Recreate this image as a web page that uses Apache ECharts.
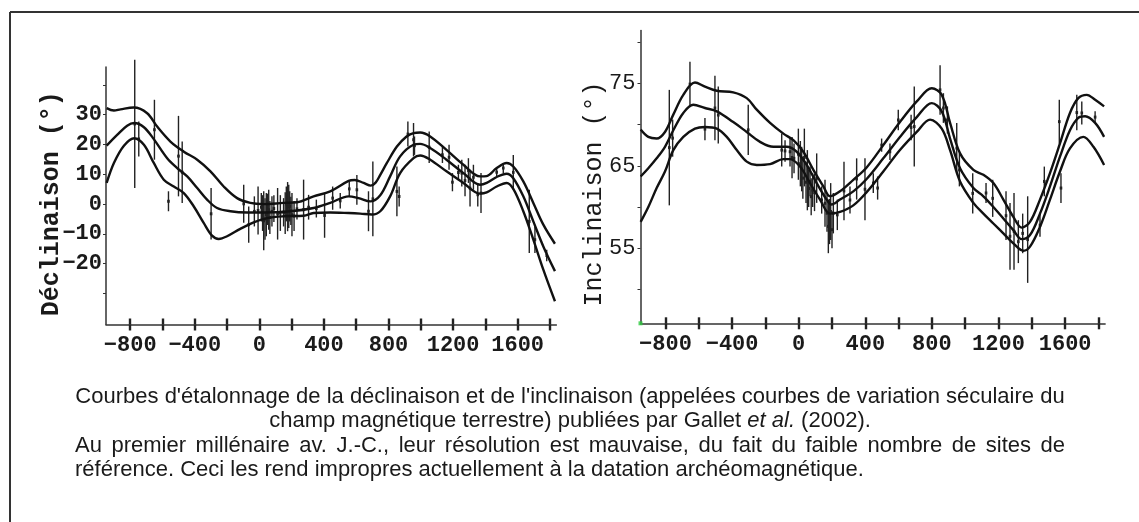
<!DOCTYPE html>
<html><head><meta charset="utf-8">
<script src="https://cdn.jsdelivr.net/npm/echarts@6/dist/echarts.min.js"></script>
<style>html,body{margin:0;padding:0;background:#fff}#c{width:1139px;height:522px}</style>
</head><body><div id="c"></div>
<script>
// ---------- DATA ----------
// Déclinaison (left chart)
const declUpYears = [-946,-901,-860,-778,-695,-633,-551,-468,-385,-303,-221,-138,-56,27,150,233,336,439,553,590,646,690,720,749,790,852,910,955,996,1058,1159,1264,1367,1408,1470,1532,1573,1635,1697,1759,1831];
const declUpVals  = [32.2,31.4,31.8,32.4,30.5,26,21,17.6,14.9,11,5.9,2,0.4,0,0.4,0.6,2.6,4.3,7.8,8.1,7.1,6.2,7.2,9.8,13.8,19.3,22.6,23.8,24,22.7,18.2,13.2,9.3,9.4,12.1,13.8,12.6,7.6,0.4,-6.9,-13.3];
const declMidYears = [-946,-881,-819,-775,-715,-654,-571,-509,-447,-385,-324,-262,-179,-76,27,192,336,439,553,614,687,749,810,872,955,996,1058,1159,1264,1367,1408,1470,1532,1573,1635,1697,1759,1831];
const declMidVals  = [19.6,23.2,26.3,27.2,25.8,21.8,15.4,12.1,9.3,5.4,1.5,-1.3,-2.4,-2.8,-2.8,-2.4,-1.3,0.4,2.6,2,0.9,3,9.3,16,19.9,20.2,18.8,14.9,10.4,6.5,7.1,9.1,10.2,8.7,2.6,-5.8,-14.2,-22.5];
const declLowYears = [-946,-901,-839,-775,-715,-654,-592,-530,-468,-406,-345,-293,-252,-200,-118,-35,48,150,274,336,439,553,625,697,749,810,872,955,996,1058,1159,1264,1367,1408,1470,1532,1573,1635,1697,1759,1831];
const declLowVals  = [7.1,13.8,19.6,22.1,19.9,13.8,8.2,5.9,3.7,-0.8,-6.3,-10.6,-11.7,-10.8,-8.3,-6.1,-4.7,-4.1,-3.9,-3,-2.8,-3,-3.2,-3.5,-2.4,2.6,10.4,15.4,16.3,14.9,11,7.1,3.5,3.9,5.9,7.1,5.1,-2.4,-11.9,-22,-32.6];
// error bars: year, low, high
const declErrYears = [-772,-747,-650,-563,-501,-478,-299,-97,-66,-31,-8,12,20,27,35,43,50,58,65,78,90,113,130,150,160,167,175,182,188,195,202,215,233,274,305,353,404,454,501,557,604,676,703,852,866,920,955,961,1052,1134,1175,1196,1233,1254,1274,1295,1305,1326,1353,1373,1470,1511,1573,1672,1707,1780];
const declErrLow   = [5.4,16,14.9,-2.4,2.6,0.4,-11.9,-6.3,-13,-7.5,-10.2,-5.8,-9,-15.5,-12,-10.8,-7,-8.6,-10,-7.5,-6,-11.9,-9,-7.5,-10,-5.8,-9.1,-8,-5.8,-7,-10.8,-9,-5.2,-11.9,-5.2,-4.5,-11.3,-1.9,-1.5,2.6,-0.2,-9.1,-10.8,-4.1,-0.8,19.3,16,16.5,13.8,13.8,11.5,4.3,8,5.9,2.6,7.1,-0.8,4.8,-0.8,-3,9.3,10.4,4.8,-16.4,-16.4,-19.2];
const declErrHigh  = [48.4,27.7,35,4.3,29.6,21,5.4,6.5,-0.8,2.6,5.9,3.7,3,4.3,2,3.7,3.5,4.8,1,2.6,3,5.4,3,2,4,5.9,7.4,6.5,4.3,2.5,3.7,1,2,8.2,3.1,1.5,3.7,5.9,3.7,7.6,9.8,4.3,14.3,12.6,5.9,27.7,27.2,22.7,24.4,19.3,19.9,10.4,13.2,14.9,13.2,15.4,11.5,13.2,7.1,10.4,12.1,13.8,16.5,4.8,-7.5,-15.3];

// Inclinaison (right chart)
const inclUpYears = [-949,-903,-853,-803,-753,-693,-623,-563,-492,-393,-312,-252,-172,-92,-32,28,88,148,188,248,328,408,508,608,709,799,859,909,969,1049,1109,1169,1229,1289,1339,1389,1449,1509,1569,1629,1679,1730,1780,1834];
const inclUpVals  = [69.4,68.5,68.3,69.1,71.2,73.6,75.1,74.6,74.1,73.9,73.2,71.8,70.2,68.9,68.1,66.7,64.5,62.5,61.3,61.9,63.3,64.8,67.5,70.3,72.8,74.4,73.6,70.2,66.5,64.5,63.9,62.9,60.9,58.8,57.5,58.2,60.9,64.1,67.7,71.4,73.2,73.6,73,72.2];
const inclMidYears = [-949,-903,-853,-803,-753,-693,-633,-563,-492,-393,-312,-232,-152,-72,-12,48,108,168,198,248,328,408,508,608,709,799,859,909,969,1049,1109,1169,1229,1289,1339,1389,1449,1509,1569,1629,1679,1720,1780,1834];
const inclMidVals  = [63.7,64.7,65.9,67.3,69.3,71.4,72.4,72,71.6,70.3,69.1,67.9,67.3,67.3,66.7,65.1,62.9,60.9,60.3,60.9,61.9,63.4,65.9,68.5,70.9,72.6,71.6,68.3,64.7,62.3,61.3,60,58.6,57.2,56.1,56.6,59.2,62.5,66.1,69.3,70.8,71,70.2,68.5];
const inclLowYears = [-949,-903,-853,-803,-753,-693,-623,-563,-492,-432,-372,-312,-252,-172,-92,-52,8,68,128,188,248,328,408,508,608,709,789,859,909,969,1049,1109,1169,1229,1289,1349,1389,1449,1509,1569,1629,1709,1770,1834];
const inclLowVals  = [58.2,60,62.3,64.3,66.9,68.5,69.5,69.7,69.5,68.5,66.9,65.5,65.1,65.2,65.8,65.8,64.9,62.9,60.9,59.2,59.4,60.2,61.8,64.3,66.9,69.1,70.6,69.5,66.9,63.1,60.5,59.2,58,56.8,55.6,54.7,55.2,57.6,60.9,64.3,67.1,68.5,67.3,65.1];
const inclErrYears = [-777,-757,-653,-563,-503,-483,-303,-102,-82,-52,-40,-28,-2,10,18,25,34,44,52,60,68,75,84,95,108,138,158,170,178,185,192,200,208,232,272,308,348,398,448,474,498,548,598,675,694,849,869,893,949,965,1045,1125,1165,1245,1269,1293,1319,1345,1375,1449,1475,1565,1575,1670,1700,1780];
const inclErrLow   = [60.2,66.1,72.2,68.1,68.1,67.7,66.3,64.9,65.5,64.9,63.5,64.1,63.3,62.5,61.9,61,62.5,60.5,59.6,60,61.3,59,60,59.5,60.5,59.2,57.6,57,54.4,55.5,56,55,56.8,57.2,58.4,59.2,60.9,58.4,61.7,60.9,66.7,65.7,69.3,68.1,64.9,71.2,70.2,68.9,64.1,62.5,59.2,60.5,58.8,56,52.4,52.4,53.2,54.4,50.8,56.4,61.3,67.7,60.5,69.3,70,70.2];
const inclErrHigh  = [74.2,70.6,77.6,70.8,75.9,74.6,72.4,68.9,68.1,68.5,68.5,67.7,69.5,68,67.3,66,69.5,65.5,66.9,64.5,64.9,63.5,64.1,64,66.5,62.5,63.3,61.5,60.9,61,62.9,59.5,61.7,60.9,65.5,62.5,65.9,65.9,64.1,63.7,68.3,67.7,71.8,71.2,74.6,77.2,73.8,72.2,70.2,66.5,64.1,62.9,63.3,61.9,60.5,61.7,58.4,59.2,61.3,59.2,64.9,73,64.1,73.6,72.8,71.6];
const inclOriginMark = [[-950, 45.9]];

// Axes ticks / labels
const yearTicks  = [-800,-600,-400,-200,0,200,400,600,800,1000,1200,1400,1600,1800];
const yearLabels = [-800,-400,0,400,800,1200,1600];
const declTicks  = [-30,-20,-10,0,10,20,30,40];
const declLabels = [-20,-10,0,10,20,30];
const inclTicks  = [50,55,60,65,70,75,80];
const inclLabels = [55,65,75];

const captionLine1 = "Courbes d'étalonnage de la déclinaison et de l'inclinaison (appelées courbes de variation séculaire du";
const captionLine2a = "champ magnétique terrestre) publiées par Gallet ";
const captionLine2b = "et al.";
const captionLine2c = " (2002).";
const captionLine3 = "Au premier millénaire av. J.-C., leur résolution est mauvaise, du fait du faible nombre de sites de";
const captionLine4 = "référence. Ceci les rend impropres actuellement à la datation archéomagnétique.";

// ---------- CHART ----------
const MONO = '"Liberation Mono", "DejaVu Sans Mono", monospace';
const SANS = '"Liberation Sans", Arial, sans-serif';
const INK = '#1a1a1a';
const zip = (xs, ys) => xs.map((x, i) => [x, ys[i]]);
const zip3 = (xs, a, b) => xs.map((x, i) => [x, a[i], b[i]]);
const fmt = v => (v < 0 ? '\u2212' + Math.abs(v) : String(v));

function xAxes(gridIndex) {
  return [
    { type: 'value', gridIndex, min: -950, max: 1840, position: 'bottom',
      axisLine: { show: true, onZero: false, lineStyle: { color: '#333', width: 1.5 } },
      axisTick: { show: true, inside: false, length: 6, lineStyle: { color: '#222', width: 2.4 }, customValues: yearTicks },
      axisLabel: { show: true, margin: 10, fontFamily: MONO, fontWeight: 'bold', fontSize: 22, color: INK,
                   customValues: yearLabels, formatter: fmt },
      splitLine: { show: false } },
    { type: 'value', gridIndex, min: -950, max: 1840, position: 'bottom',
      axisLine: { show: false, onZero: false },
      axisTick: { show: true, inside: true, length: 6, lineStyle: { color: '#222', width: 2.4 }, customValues: yearTicks },
      axisLabel: { show: false }, splitLine: { show: false } }
  ];
}

function line(data, xi, yi) {
  return { type: 'line', xAxisIndex: xi, yAxisIndex: yi, data, smooth: 0.35, symbol: 'none',
           lineStyle: { color: '#111', width: 2.4 }, z: 3, silent: true };
}
function errBars(data, xi, yi) {
  return { type: 'custom', xAxisIndex: xi, yAxisIndex: yi, data, z: 2, silent: true, clip: false,
    renderItem(params, api) {
      const x = api.value(0), lo = api.value(1), hi = api.value(2);
      const p1 = api.coord([x, lo]), p2 = api.coord([x, hi]);
      const pm = api.coord([x, (lo + hi) / 2]);
      return { type: 'group', children: [
        { type: 'line', shape: { x1: p1[0], y1: p1[1], x2: p2[0], y2: p2[1] },
          style: { stroke: '#222', lineWidth: 1.4 } },
        { type: 'rect', shape: { x: pm[0] - 1.3, y: pm[1] - 1.5, width: 2.6, height: 3 },
          style: { fill: '#222' } }
      ] };
    } };
}

// caption layout helpers
const mctx = document.createElement('canvas').getContext('2d');
function measure(t, fs, st) { mctx.font = (st || 'normal') + ' ' + fs + 'px ' + SANS; return mctx.measureText(t).width; }
const CAP_L = 75, CAP_R = 1065, CAP_W = CAP_R - CAP_L;
const capFs = Math.round(18 * CAP_W / measure(captionLine1, 18) * 10) / 10;
const capY = [397, 421, 446, 470];

const graphics = [];
// frame
graphics.push({ type: 'line', shape: { x1: 10, y1: 12, x2: 1139, y2: 12 }, style: { stroke: '#333', lineWidth: 2 }, silent: true });
graphics.push({ type: 'line', shape: { x1: 10, y1: 12, x2: 10, y2: 522 }, style: { stroke: '#333', lineWidth: 2 }, silent: true });
// caption line 1
graphics.push({ type: 'text', style: { text: captionLine1, x: (CAP_L + CAP_R) / 2, y: capY[0], align: 'center', verticalAlign: 'middle',
  fontFamily: SANS, fontSize: capFs, fill: INK }, silent: true });
// caption line 2 (with italic et al.)
graphics.push({ type: 'text', style: { text: captionLine2a + '{i|' + captionLine2b + '}' + captionLine2c,
  x: (CAP_L + CAP_R) / 2, y: capY[1], align: 'center', verticalAlign: 'middle',
  fontFamily: SANS, fontSize: capFs, fill: INK,
  rich: { i: { fontStyle: 'italic', fontFamily: SANS, fontSize: capFs, fill: INK } } }, silent: true });
// caption line 3 (justified)
(function () {
  const words = captionLine3.split(' ');
  const ws = words.map(w => measure(w, capFs));
  const gap = (CAP_W - ws.reduce((a, b) => a + b, 0)) / (words.length - 1);
  let x = CAP_L;
  words.forEach((w, i) => {
    graphics.push({ type: 'text', style: { text: w, x, y: capY[2], align: 'left', verticalAlign: 'middle',
      fontFamily: SANS, fontSize: capFs, fill: INK }, silent: true });
    x += ws[i] + gap;
  });
})();
// caption line 4
graphics.push({ type: 'text', style: { text: captionLine4, x: CAP_L, y: capY[3], align: 'left', verticalAlign: 'middle',
  fontFamily: SANS, fontSize: capFs, fill: INK }, silent: true });

const option = {
  animation: false,
  backgroundColor: '#fff',
  grid: [
    { left: 106, top: 67, width: 450.4, height: 257.5 },
    { left: 640.5, top: 30.5, width: 464.6, height: 292.8 }
  ],
  xAxis: [...xAxes(0), ...xAxes(1)],
  yAxis: [
    { type: 'value', gridIndex: 0, min: -40.4, max: 46,
      name: 'Déclinaison (°)', nameLocation: 'middle', nameRotate: 90, nameGap: 42, nameMoveOverlap: false,
      nameTextStyle: { fontFamily: MONO, fontWeight: 'bold', fontSize: 25, color: INK, padding: [0, 16, 0, 0] },
      axisLine: { show: true, onZero: false, lineStyle: { color: '#333', width: 1.5 } },
      axisTick: { show: true, length: 3, lineStyle: { color: '#333', width: 1 }, customValues: declTicks },
      axisLabel: { margin: 4, fontFamily: MONO, fontWeight: 'bold', fontSize: 22, color: INK,
                   customValues: declLabels, formatter: fmt },
      splitLine: { show: false } },
    { type: 'value', gridIndex: 1, min: 45.9, max: 81.4,
      name: 'Inclinaison (°)', nameLocation: 'middle', nameRotate: 90, nameGap: 34, nameMoveOverlap: false,
      nameTextStyle: { fontFamily: MONO, fontWeight: 'normal', fontSize: 25, color: INK, padding: [0, 34, 0, 0] },
      axisLine: { show: true, onZero: false, lineStyle: { color: '#333', width: 1.5 } },
      axisTick: { show: true, length: 3, lineStyle: { color: '#333', width: 1 }, customValues: inclTicks },
      axisLabel: { margin: 5, fontFamily: MONO, fontWeight: 'normal', fontSize: 22, color: INK,
                   customValues: inclLabels, formatter: fmt },
      splitLine: { show: false } }
  ],
  series: [
    errBars(zip3(declErrYears, declErrLow, declErrHigh), 0, 0),
    line(zip(declUpYears, declUpVals), 0, 0),
    line(zip(declMidYears, declMidVals), 0, 0),
    line(zip(declLowYears, declLowVals), 0, 0),
    errBars(zip3(inclErrYears, inclErrLow, inclErrHigh), 2, 1),
    line(zip(inclUpYears, inclUpVals), 2, 1),
    line(zip(inclMidYears, inclMidVals), 2, 1),
    line(zip(inclLowYears, inclLowVals), 2, 1),
    { type: 'scatter', xAxisIndex: 2, yAxisIndex: 1, data: inclOriginMark, symbol: 'rect', symbolSize: 4,
      itemStyle: { color: '#2ecc40' }, z: 5, silent: true }
  ],
  graphic: graphics
};
const chart = echarts.init(document.getElementById('c'), null, { renderer: 'canvas' });
chart.setOption(option);
</script></body></html>
